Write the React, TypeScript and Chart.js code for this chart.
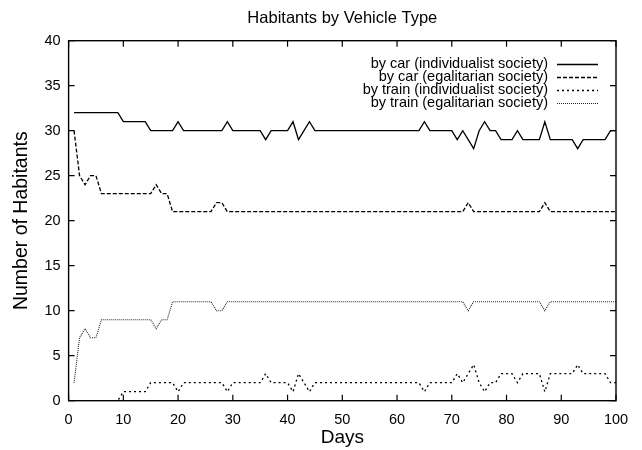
import React, { useEffect, useRef } from "react";
import { Chart, registerables } from "chart.js";

Chart.register(...registerables);

// ---------- data ----------
const days = [
  1, 2, 3, 4, 5, 6, 7, 8, 9, 10,
  11, 12, 13, 14, 15, 16, 17, 18, 19, 20,
  21, 22, 23, 24, 25, 26, 27, 28, 29, 30,
  31, 32, 33, 34, 35, 36, 37, 38, 39, 40,
  41, 42, 43, 44, 45, 46, 47, 48, 49, 50,
  51, 52, 53, 54, 55, 56, 57, 58, 59, 60,
  61, 62, 63, 64, 65, 66, 67, 68, 69, 70,
  71, 72, 73, 74, 75, 76, 77, 78, 79, 80,
  81, 82, 83, 84, 85, 86, 87, 88, 89, 90,
  91, 92, 93, 94, 95, 96, 97, 98, 99, 100,
];

const carIndividualist = [
  32, 32, 32, 32, 32, 32, 32, 32, 32, 31,
  31, 31, 31, 31, 30, 30, 30, 30, 30, 31,
  30, 30, 30, 30, 30, 30, 30, 30, 31, 30,
  30, 30, 30, 30, 30, 29, 30, 30, 30, 30,
  31, 29, 30, 31, 30, 30, 30, 30, 30, 30,
  30, 30, 30, 30, 30, 30, 30, 30, 30, 30,
  30, 30, 30, 30, 31, 30, 30, 30, 30, 30,
  29, 30, 29, 28, 30, 31, 30, 30, 29, 29,
  29, 30, 29, 29, 29, 29, 31, 29, 29, 29,
  29, 29, 28, 29, 29, 29, 29, 29, 30, 30,
];

const carEgalitarian = [
  30, 25, 24, 25, 25, 23, 23, 23, 23, 23,
  23, 23, 23, 23, 23, 24, 23, 23, 21, 21,
  21, 21, 21, 21, 21, 21, 22, 22, 21, 21,
  21, 21, 21, 21, 21, 21, 21, 21, 21, 21,
  21, 21, 21, 21, 21, 21, 21, 21, 21, 21,
  21, 21, 21, 21, 21, 21, 21, 21, 21, 21,
  21, 21, 21, 21, 21, 21, 21, 21, 21, 21,
  21, 21, 22, 21, 21, 21, 21, 21, 21, 21,
  21, 21, 21, 21, 21, 21, 22, 21, 21, 21,
  21, 21, 21, 21, 21, 21, 21, 21, 21, 21,
];

const trainIndividualist = [
  0, 0, 0, 0, 0, 0, 0, 0, 0, 1,
  1, 1, 1, 1, 2, 2, 2, 2, 2, 1,
  2, 2, 2, 2, 2, 2, 2, 2, 1, 2,
  2, 2, 2, 2, 2, 3, 2, 2, 2, 2,
  1, 3, 2, 1, 2, 2, 2, 2, 2, 2,
  2, 2, 2, 2, 2, 2, 2, 2, 2, 2,
  2, 2, 2, 2, 1, 2, 2, 2, 2, 2,
  3, 2, 3, 4, 2, 1, 2, 2, 3, 3,
  3, 2, 3, 3, 3, 3, 1, 3, 3, 3,
  3, 3, 4, 3, 3, 3, 3, 3, 2, 2,
];

const trainEgalitarian = [
  2, 7, 8, 7, 7, 9, 9, 9, 9, 9,
  9, 9, 9, 9, 9, 8, 9, 9, 11, 11,
  11, 11, 11, 11, 11, 11, 10, 10, 11, 11,
  11, 11, 11, 11, 11, 11, 11, 11, 11, 11,
  11, 11, 11, 11, 11, 11, 11, 11, 11, 11,
  11, 11, 11, 11, 11, 11, 11, 11, 11, 11,
  11, 11, 11, 11, 11, 11, 11, 11, 11, 11,
  11, 11, 10, 11, 11, 11, 11, 11, 11, 11,
  11, 11, 11, 11, 11, 11, 10, 11, 11, 11,
  11, 11, 11, 11, 11, 11, 11, 11, 11, 11,
];

const seriesLabels = [
  "by car (individualist society)",
  "by car (egalitarian society)",
  "by train (individualist society)",
  "by train (egalitarian society)",
];

const xTicks = [0, 10, 20, 30, 40, 50, 60, 70, 80, 90, 100];
const yTicks = [0, 5, 10, 15, 20, 25, 30, 35, 40];

const chartTitle = "Habitants by Vehicle Type";
const xTitle = "Days";
const yTitle = "Number of Habitants";

// ---------- styling ----------
const FONT = '"Liberation Sans", Arial, Helvetica, sans-serif';
const INK = "#000000";

const gnuplotFrame = {
  id: "gnuplotFrame",
  afterDraw(chart: any) {
    const { ctx, chartArea } = chart;
    const { left, right, top, bottom } = chartArea;
    const xs = chart.scales.x;
    const ys = chart.scales.y;
    const tick = 6;
    ctx.save();
    ctx.strokeStyle = INK;
    ctx.lineWidth = 1.4;
    ctx.setLineDash([]);
    // border box
    ctx.strokeRect(left, top, right - left, bottom - top);
    // inward ticks
    ctx.lineWidth = 1.2;
    ctx.beginPath();
    xTicks.forEach((v) => {
      const px = xs.getPixelForValue(v);
      ctx.moveTo(px, bottom);
      ctx.lineTo(px, bottom - tick);
      ctx.moveTo(px, top);
      ctx.lineTo(px, top + tick);
    });
    yTicks.forEach((v) => {
      const py = ys.getPixelForValue(v);
      ctx.moveTo(left, py);
      ctx.lineTo(left + tick, py);
      ctx.moveTo(right, py);
      ctx.lineTo(right - tick, py);
    });
    ctx.stroke();

    // titles
    ctx.fillStyle = INK;
    ctx.textAlign = "center";
    ctx.textBaseline = "middle";
    ctx.font = `16.5px ${FONT}`;
    ctx.fillText(chartTitle, (left + right) / 2, 18);
    ctx.font = `19px ${FONT}`;
    ctx.fillText(xTitle, (left + right) / 2, 438);
    ctx.save();
    ctx.translate(22, (top + bottom) / 2);
    ctx.rotate(-Math.PI / 2);
    ctx.font = `19.5px ${FONT}`;
    ctx.fillText(yTitle, 0, 0);
    ctx.restore();

    // legend (gnuplot key, top right inside)
    ctx.font = `14.5px ${FONT}`;
    ctx.textAlign = "right";
    const textRight = 548;
    const sampleL = 557;
    const sampleR = 598;
    chart.data.datasets.forEach((ds: any, i: number) => {
      const y = 63.5 + i * 13.1;
      ctx.fillStyle = INK;
      ctx.fillText(ds.label, textRight, y);
      ctx.beginPath();
      ctx.setLineDash(ds.borderDash || []);
      ctx.lineWidth = ds.borderWidth;
      ctx.strokeStyle = ds.borderColor;
      const yy = Math.round(y) + 0.5;
      ctx.moveTo(sampleL, yy);
      ctx.lineTo(sampleR, yy);
      ctx.stroke();
    });
    ctx.restore();
  },
};

function toPoints(values: number[]) {
  return days.map((d, i) => ({ x: d, y: values[i] }));
}

export default function App() {
  const canvasRef = useRef<HTMLCanvasElement | null>(null);

  useEffect(() => {
    const canvas = canvasRef.current;
    if (!canvas) return;
    Chart.defaults.font.family = FONT;
    Chart.defaults.color = INK;

    const chart = new Chart(canvas, {
      type: "line",
      data: {
        datasets: [
          {
            label: seriesLabels[0],
            data: toPoints(carIndividualist),
            borderColor: INK,
            borderWidth: 1.3,
            borderDash: [],
            pointRadius: 0,
            tension: 0,
            fill: false,
          },
          {
            label: seriesLabels[1],
            data: toPoints(carEgalitarian),
            borderColor: INK,
            borderWidth: 1.3,
            borderDash: [4, 2],
            pointRadius: 0,
            tension: 0,
            fill: false,
          },
          {
            label: seriesLabels[2],
            data: toPoints(trainIndividualist),
            borderColor: INK,
            borderWidth: 1.3,
            borderDash: [2, 3],
            pointRadius: 0,
            tension: 0,
            fill: false,
          },
          {
            label: seriesLabels[3],
            data: toPoints(trainEgalitarian),
            borderColor: "#222222",
            borderWidth: 1.1,
            borderDash: [1, 1],
            pointRadius: 0,
            tension: 0,
            fill: false,
          },
        ],
      },
      options: {
        responsive: false,
        animation: false,
        layout: { padding: { top: 40.7, right: 26, left: 0, bottom: 0 } },
        plugins: {
          legend: { display: false },
          title: { display: false },
          tooltip: { enabled: false },
        },
        scales: {
          x: {
            type: "linear",
            min: 0,
            max: 100,
            afterFit: (scale: any) => {
              scale.height = 450 - 400.7;
            },
            afterBuildTicks: (scale: any) => {
              scale.ticks = xTicks.map((v) => ({ value: v }));
            },
            ticks: {
              font: { size: 14.5, family: FONT },
              color: INK,
              padding: 11,
              maxRotation: 0,
              autoSkip: false,
            },
            grid: { display: false, drawTicks: false },
            border: { display: false },
          },
          y: {
            type: "linear",
            min: 0,
            max: 40,
            afterFit: (scale: any) => {
              scale.width = 68.6;
            },
            afterBuildTicks: (scale: any) => {
              scale.ticks = yTicks.map((v) => ({ value: v }));
            },
            ticks: {
              font: { size: 14.5, family: FONT },
              color: INK,
              padding: 8,
              autoSkip: false,
            },
            grid: { display: false, drawTicks: false },
            border: { display: false },
          },
        },
      },
      plugins: [gnuplotFrame],
    });

    return () => {
      chart.destroy();
    };
  }, []);

  return (
    <div style={{ position: "fixed", left: 0, top: 0, width: 642, height: 450, background: "#ffffff" }}>
      <canvas ref={canvasRef} width={642} height={450} />
    </div>
  );
}
